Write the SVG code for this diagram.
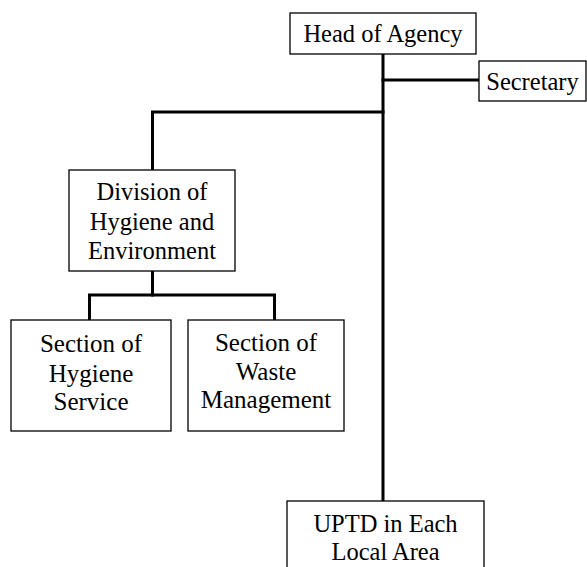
<svg xmlns="http://www.w3.org/2000/svg" width="587" height="567" viewBox="0 0 587 567">
<style>
.box{fill:#fff;stroke:#000;stroke-width:1.3}
.t{font-family:"Liberation Serif","Times New Roman",serif;font-size:24.5px;fill:#000;text-anchor:middle}
.s{font-size:25px}
.c{fill:none;stroke:#000;stroke-width:3;stroke-linecap:square}
</style>
<rect width="587" height="567" fill="#fff"/>
<g id="connectors">
<line class="c" x1="383" y1="54" x2="383" y2="501"/>
<line class="c" x1="383" y1="80" x2="479" y2="80"/>
<polyline class="c" points="383,112 152.5,112 152.5,170"/>
<line class="c" x1="152.5" y1="271" x2="152.5" y2="295"/>
<polyline class="c" points="89.5,320 89.5,295 274.5,295 274.5,320"/>
</g>
<g id="head">
<rect class="box" x="290" y="13" width="186" height="41"/>
<text class="t" x="383" y="42">Head of Agency</text>
</g>
<g id="secretary">
<rect class="box" x="479" y="61" width="107" height="40"/>
<text class="t" x="532.5" y="90">Secretary</text>
</g>
<g id="division">
<rect class="box" x="69" y="170" width="166" height="101"/>
<text class="t" x="152" y="200">Division of</text>
<text class="t" x="152" y="230">Hygiene and</text>
<text class="t" x="152" y="259">Environment</text>
</g>
<g id="hygiene">
<rect class="box" x="11" y="320" width="160" height="111"/>
<text class="t s" x="91" y="352">Section of</text>
<text class="t s" x="91" y="382">Hygiene</text>
<text class="t s" x="91" y="410">Service</text>
</g>
<g id="waste">
<rect class="box" x="188" y="320" width="156" height="111"/>
<text class="t s" x="266" y="351">Section of</text>
<text class="t s" x="266" y="380">Waste</text>
<text class="t s" x="266" y="408">Management</text>
</g>
<g id="uptd">
<rect class="box" x="287" y="501" width="197" height="80"/>
<text class="t" x="385.5" y="532">UPTD in Each</text>
<text class="t" x="385.5" y="560">Local Area</text>
</g>
</svg>
